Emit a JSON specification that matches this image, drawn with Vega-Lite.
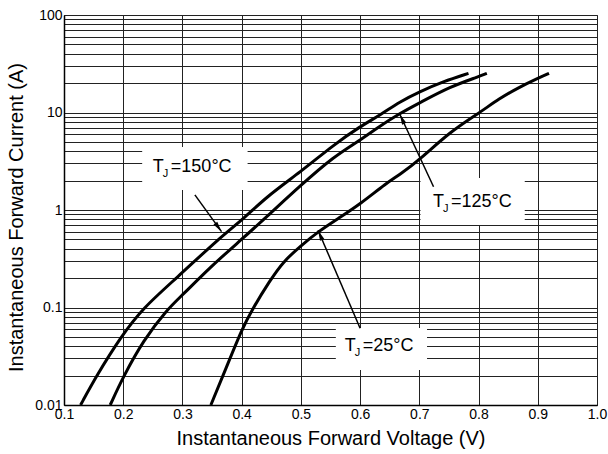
{
  "$schema": "https://vega.github.io/schema/vega-lite/v6.json",
  "width": 533,
  "height": 390,
  "autosize": {"type": "none"},
  "padding": {"left": 64, "top": 15, "right": 11, "bottom": 49},
  "background": "white",
  "config": {
    "view": {"stroke": "#444", "strokeWidth": 1},
    "font": "Liberation Sans",
    "axis": {
      "labelFont": "Liberation Sans",
      "titleFont": "Liberation Sans",
      "labelColor": "#000",
      "titleColor": "#000",
      "titleFontWeight": "normal",
      "gridColor": "#222",
      "gridOpacity": 1,
      "gridWidth": 1,
      "domainColor": "#000",
      "domainWidth": 1.5,
      "ticks": false,
      "labelFontSize": 14,
      "titleFontSize": 20
    }
  },
  "datasets": {
    "curves": [
      {"t": "150", "v": 0.128, "i": 0.01},
      {"t": "150", "v": 0.155, "i": 0.02},
      {"t": "150", "v": 0.196, "i": 0.05},
      {"t": "150", "v": 0.234, "i": 0.1},
      {"t": "150", "v": 0.29, "i": 0.2},
      {"t": "150", "v": 0.363, "i": 0.52},
      {"t": "150", "v": 0.4, "i": 0.78},
      {"t": "150", "v": 0.442, "i": 1.37},
      {"t": "150", "v": 0.5, "i": 2.47},
      {"t": "150", "v": 0.555, "i": 4.64},
      {"t": "150", "v": 0.6, "i": 7.2},
      {"t": "150", "v": 0.634, "i": 9.4},
      {"t": "150", "v": 0.667, "i": 12.9},
      {"t": "150", "v": 0.701, "i": 16.4},
      {"t": "150", "v": 0.74, "i": 20.7},
      {"t": "150", "v": 0.783, "i": 25.2},
      {"t": "125", "v": 0.178, "i": 0.01},
      {"t": "125", "v": 0.2, "i": 0.0195},
      {"t": "125", "v": 0.234, "i": 0.046},
      {"t": "125", "v": 0.273, "i": 0.094},
      {"t": "125", "v": 0.3, "i": 0.134},
      {"t": "125", "v": 0.347, "i": 0.26},
      {"t": "125", "v": 0.4, "i": 0.5},
      {"t": "125", "v": 0.442, "i": 0.85},
      {"t": "125", "v": 0.5, "i": 1.8},
      {"t": "125", "v": 0.555, "i": 3.52},
      {"t": "125", "v": 0.6, "i": 5.2},
      {"t": "125", "v": 0.628, "i": 6.9},
      {"t": "125", "v": 0.667, "i": 9.8},
      {"t": "125", "v": 0.701, "i": 12.6},
      {"t": "125", "v": 0.752, "i": 18.4},
      {"t": "125", "v": 0.8, "i": 23.3},
      {"t": "125", "v": 0.814, "i": 25.2},
      {"t": "25", "v": 0.348, "i": 0.01},
      {"t": "25", "v": 0.375, "i": 0.025},
      {"t": "25", "v": 0.4, "i": 0.059},
      {"t": "25", "v": 0.417, "i": 0.094},
      {"t": "25", "v": 0.448, "i": 0.19},
      {"t": "25", "v": 0.47, "i": 0.295},
      {"t": "25", "v": 0.5, "i": 0.43},
      {"t": "25", "v": 0.529, "i": 0.6},
      {"t": "25", "v": 0.566, "i": 0.84},
      {"t": "25", "v": 0.6, "i": 1.15},
      {"t": "25", "v": 0.645, "i": 1.9},
      {"t": "25", "v": 0.667, "i": 2.3},
      {"t": "25", "v": 0.701, "i": 3.3},
      {"t": "25", "v": 0.752, "i": 6.35},
      {"t": "25", "v": 0.8, "i": 9.8},
      {"t": "25", "v": 0.836, "i": 14},
      {"t": "25", "v": 0.865, "i": 17.7},
      {"t": "25", "v": 0.9, "i": 22.4},
      {"t": "25", "v": 0.919, "i": 25.2}
    ],
    "boxes": [
      {"x1": 0.232, "x2": 0.41, "y1": 4.43, "y2": 1.6},
      {"x1": 0.702, "x2": 0.878, "y1": 2.13, "y2": 0.7},
      {"x1": 0.559, "x2": 0.713, "y1": 0.0616, "y2": 0.0229}
    ],
    "labels": [
      {"v": 0.25, "i": 2.79, "n": "=150°C"},
      {"v": 0.723, "i": 1.21, "n": "=125°C"},
      {"v": 0.574, "i": 0.0403, "n": "=25°C"}
    ],
    "arrows": [
      {"v": 0.321, "i": 1.43, "v2": 0.366, "i2": 0.6, "a": 144},
      {"v": 0.724, "i": 1.73, "v2": 0.667, "i2": 9.6, "a": 335},
      {"v": 0.6, "i": 0.0612, "v2": 0.529, "i2": 0.62, "a": 337}
    ]
  },
  "layer": [
    {
      "data": {"name": "curves"},
      "mark": {"type": "line", "color": "#000", "strokeWidth": 3, "interpolate": "basis"},
      "encoding": {
        "x": {
          "field": "v", "type": "quantitative",
          "scale": {"domain": [0.1, 1.0], "nice": false, "zero": false},
          "axis": {
            "values": [0.1, 0.2, 0.3, 0.4, 0.5, 0.6, 0.7, 0.8, 0.9, 1.0],
            "format": ".1f",
            "title": "Instantaneous Forward Voltage (V)",
            "labelPadding": 2,
            "labelFlush": false,
            "labelOverlap": false,
            "titlePadding": 7
          }
        },
        "y": {
          "field": "i", "type": "quantitative",
          "scale": {"type": "log", "domain": [0.01, 100], "nice": false},
          "axis": {
            "values": [0.01, 0.02, 0.03, 0.04, 0.05, 0.06, 0.07, 0.08, 0.09, 0.1, 0.2, 0.3, 0.4, 0.5, 0.6, 0.7, 0.8, 0.9, 1, 2, 3, 4, 5, 6, 7, 8, 9, 10, 20, 30, 40, 50, 60, 70, 80, 90, 100],
            "format": "~g",
            "labelExpr": "datum.value == 0.01 || datum.value == 0.1 || datum.value == 1 || datum.value == 10 || datum.value == 100 ? datum.label : ''",
            "title": "Instantaneous Forward Current (A)",
            "labelPadding": 2,
            "labelFlush": false,
            "labelOverlap": false,
            "titlePadding": 8,
            "titleY": 202
          }
        },
        "detail": {"field": "t", "type": "nominal"}
      }
    },
    {
      "data": {"name": "boxes"},
      "mark": {"type": "rect", "fill": "white", "stroke": null},
      "encoding": {
        "x": {"field": "x1", "type": "quantitative"},
        "x2": {"field": "x2"},
        "y": {"field": "y1", "type": "quantitative"},
        "y2": {"field": "y2"}
      }
    },
    {
      "data": {"name": "arrows"},
      "mark": {"type": "rule", "color": "#000", "strokeWidth": 1.5},
      "encoding": {
        "x": {"field": "v", "type": "quantitative"},
        "y": {"field": "i", "type": "quantitative"},
        "x2": {"field": "v2"},
        "y2": {"field": "i2"}
      }
    },
    {
      "data": {"name": "arrows"},
      "mark": {"type": "point", "shape": "M0,0L-0.45,2L0.45,2Z", "filled": true, "color": "#000", "size": 110, "opacity": 1},
      "encoding": {
        "x": {"field": "v2", "type": "quantitative"},
        "y": {"field": "i2", "type": "quantitative"},
        "angle": {"field": "a", "type": "quantitative", "scale": null}
      }
    },
    {
      "data": {"name": "labels"},
      "mark": {"type": "text", "text": "T", "align": "left", "baseline": "middle", "fontSize": 18, "color": "#000"},
      "encoding": {
        "x": {"field": "v", "type": "quantitative"},
        "y": {"field": "i", "type": "quantitative"}
      }
    },
    {
      "data": {"name": "labels"},
      "mark": {"type": "text", "text": "J", "align": "left", "baseline": "middle", "fontSize": 11, "dx": 10, "dy": 7, "color": "#000"},
      "encoding": {
        "x": {"field": "v", "type": "quantitative"},
        "y": {"field": "i", "type": "quantitative"}
      }
    },
    {
      "data": {"name": "labels"},
      "mark": {"type": "text", "align": "left", "baseline": "middle", "fontSize": 18, "dx": 18, "color": "#000"},
      "encoding": {
        "x": {"field": "v", "type": "quantitative"},
        "y": {"field": "i", "type": "quantitative"},
        "text": {"field": "n"}
      }
    }
  ]
}
